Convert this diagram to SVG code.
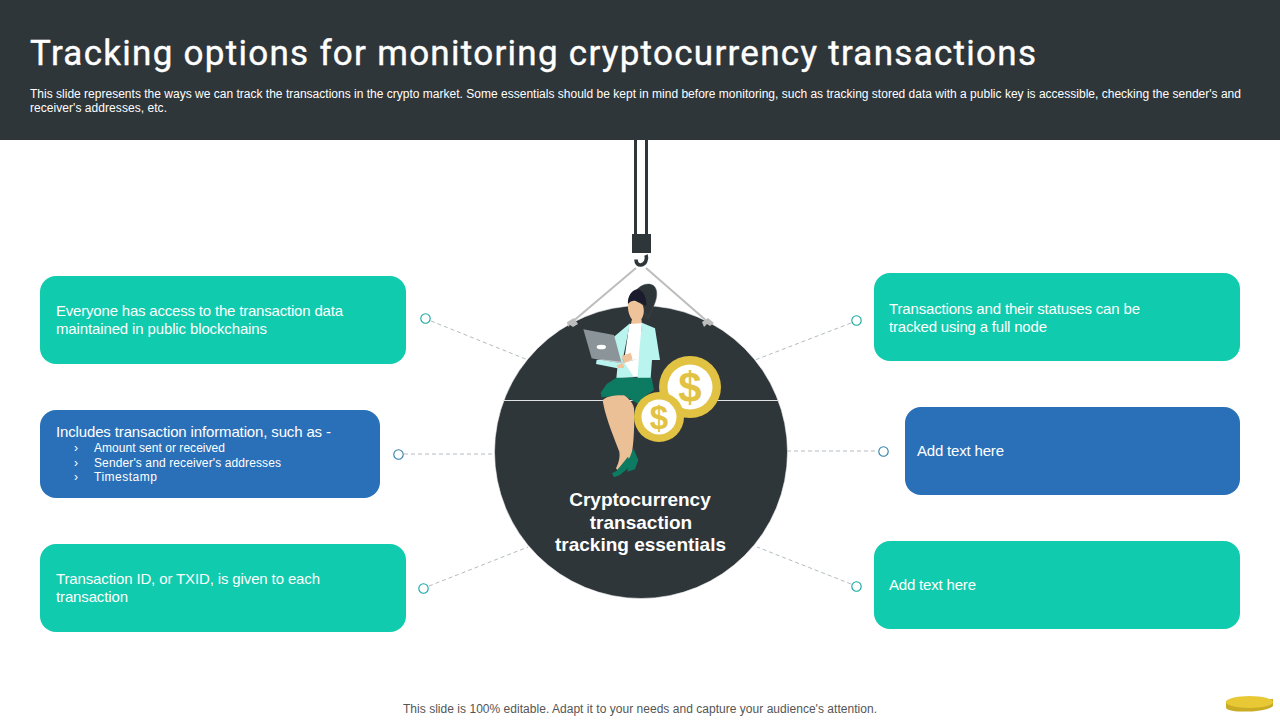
<svg xmlns="http://www.w3.org/2000/svg" width="1280" height="720" viewBox="0 0 1280 720">
<style>
text{font-family:"Liberation Sans",Arial,sans-serif}
.t{fill:#fff;font-size:15px}
.s{fill:#fff;font-size:12px}
.c{fill:#fff;font-size:19px;font-weight:700;text-anchor:middle}
.teal{fill:#10CBAD}
.blue{fill:#2A70B8}
.dash{stroke:#b4bcc0;stroke-width:1;stroke-dasharray:4 3;fill:none}
.dt{fill:#fff;stroke:#10A8A0;stroke-width:1.100}
.db{fill:#fff;stroke:#2F7FA8;stroke-width:1.100}
.rope{stroke:#bdbdbd;stroke-width:2;fill:none}
.gold{fill:#E2C243}
.dollar{fill:#E2C243;font-weight:700;text-anchor:middle}
</style>
<rect width="1280" height="720" fill="#fff"/>
<g id="header">
<rect width="1280" height="140" fill="#2F363A"/>
<text x="30" y="65" fill="#fff" stroke="#fff" stroke-width=".4" font-size="35" font-weight="400" style="font-family:Roboto,sans-serif" textLength="1006">Tracking options for monitoring cryptocurrency transactions</text>
<text x="30" y="98" class="s" textLength="1211">This slide represents the ways we can track the transactions in the crypto  market. Some essentials should be kept in mind before monitoring, such as tracking stored data with a public key is accessible, checking the sender's and</text>
<text x="30" y="112" class="s" textLength="137">receiver's addresses, etc.</text>
</g>
<g id="connectors">
<path class="dash" d="M431 321L528 360"/>
<path class="dash" d="M404 454H495"/>
<path class="dash" d="M429 586L528 547"/>
<path class="dash" d="M851 323L755 360"/>
<path class="dash" d="M787 451H878"/>
<path class="dash" d="M851 584L757 547"/>
<circle class="dt" cx="425.500" cy="318.500" r="4.700"/>
<circle class="db" cx="398.500" cy="454.500" r="4.700"/>
<circle class="dt" cx="423.500" cy="588.500" r="4.700"/>
<circle class="dt" cx="856.500" cy="320.500" r="4.700"/>
<circle class="db" cx="883.500" cy="451.500" r="4.700"/>
<circle class="dt" cx="856.500" cy="586.500" r="4.700"/>
</g>
<g id="node-top-left">
<rect class="teal" x="40" y="276" width="366" height="88" rx="16"/>
<text class="t" x="56" y="316" textLength="287">Everyone has access to the transaction data</text>
<text class="t" x="56" y="334" textLength="211">maintained in public blockchains</text>
</g>
<g id="node-mid-left">
<rect class="blue" x="40" y="410" width="340" height="88" rx="16"/>
<text class="t" x="56" y="437" textLength="275">Includes transaction information, such as -</text>
<text class="s" x="74" y="452">›</text><text class="s" x="94" y="452" textLength="131">Amount sent or received</text>
<text class="s" x="74" y="467">›</text><text class="s" x="94" y="467" textLength="187">Sender's and receiver's addresses</text>
<text class="s" x="74" y="481">›</text><text class="s" x="94" y="481" textLength="63">Timestamp</text>
</g>
<g id="node-bottom-left">
<rect class="teal" x="40" y="544" width="366" height="88" rx="16"/>
<text class="t" x="56" y="584" textLength="264">Transaction ID, or TXID,  is given to each</text>
<text class="t" x="56" y="602" textLength="72">transaction</text>
</g>
<g id="node-top-right">
<rect class="teal" x="874" y="273" width="366" height="88" rx="16"/>
<text class="t" x="889" y="314" textLength="251">Transactions and their statuses can be</text>
<text class="t" x="889" y="332" textLength="158">tracked using a full node</text>
</g>
<g id="node-mid-right">
<rect class="blue" x="905" y="407" width="335" height="88" rx="16"/>
<text class="t" x="917" y="456" textLength="87">Add text here</text>
</g>
<g id="node-bottom-right">
<rect class="teal" x="874" y="541" width="366" height="88" rx="16"/>
<text class="t" x="889" y="590" textLength="87">Add text here</text>
</g>
<g id="center">
<path class="rope" d="M636 268L571 323M646 268L709 323"/>
<circle cx="641" cy="452" r="146.500" fill="#2F363A" stroke="#f2f4f4" stroke-width=".6"/>
<path d="M567 322L574 318L578 324L573 327L570 325L568 327Z" fill="#bdbdbd"/>
<path d="M702 322L708 318L714 323L710 326L707 324L704 327Z" fill="#bdbdbd"/>
<path d="M503 400.500H779" stroke="#dfe3e3" stroke-width="1"/>
<rect x="634" y="140" width="3" height="95" fill="#2F363A"/>
<rect x="645" y="140" width="3" height="95" fill="#2F363A"/>
<rect x="632" y="234" width="19" height="19" fill="#2F363A"/>
<path d="M646 255C647.500 259 645.500 264.500 641 265C638 265.300 636 263 636 259.500" fill="none" stroke="#2F363A" stroke-width="3.600"/>
<text class="c" x="640" y="506">Cryptocurrency</text>
<text class="c" x="641" y="529">transaction</text>
<text class="c" x="640.500" y="551" textLength="171">tracking essentials</text>
</g>
<g id="figure" transform="translate(540 280) scale(.33333)">
<path d="M285 35C300 15 325 5 342 18C356 32 350 60 340 80L325 115L290 70Z" fill="#2F363A" stroke="#454d51" stroke-width="1.500"/>
<path d="M264 65C275 60 290 62 308 75C314 90 312 105 304 118L306 132L292 165L272 135L276 118C266 105 262 85 264 65Z" fill="#EFC39A"/>
<path d="M264 72C262 50 275 30 292 28C310 30 322 55 318 78C305 70 280 50 264 72Z" fill="#1A1C2E"/>
<path d="M268 132L306 130L302 210L298 290L245 292L255 225Z" fill="#fff"/>
<path d="M270 130L222 170L228 235L170 240L168 252L232 265L229 295L282 292L248 240Z" fill="#B9F4EE"/>
<path d="M306 128L345 145L360 240L336 240L332 295L292 302L298 210Z" fill="#B9F4EE"/>
<path d="M229 293L335 293L342 330L320 345L295 372L250 345L185 352L182 338L200 312Z" fill="#0C7B61"/>
<path d="M188 360C205 345 235 345 252 346C268 356 280 372 282 385C284 430 282 490 274 530L262 540L232 570L228 565C238 545 240 530 238 515C225 480 195 410 188 360Z" fill="#EBC096"/>
<path d="M280 505L295 540L285 568L262 575L268 535Z" fill="#0C7B61"/>
<path d="M216 580L230 572L264 530L272 550L262 566L240 585L222 592Z" fill="#0C7B61"/>
<path d="M130 148L222 165L245 250L155 235Z" fill="#8B9499"/>
<path d="M155 235L245 250L295 237L245 245Z" fill="#c7cccf"/>
<ellipse cx="184" cy="201" rx="14" ry="7" fill="#fff"/>
<path d="M245 228L272 218L278 238L252 250Z" fill="#EFC39A"/>
<path d="M230 256L250 250L252 264L234 264Z" fill="#EFC39A"/>
</g>
<g id="coins">
<circle class="gold" cx="690" cy="387" r="31"/>
<circle cx="690" cy="387" r="22.500" fill="#fff"/>
<text class="dollar" x="690" y="402" font-size="42">$</text>
<circle class="gold" cx="659" cy="417" r="25"/>
<circle cx="659" cy="417" r="17.500" fill="#fff"/>
<text class="dollar" x="659" y="429" font-size="33">$</text>
</g>
<g id="footer">
<text x="403" y="713" font-size="12" fill="#555" textLength="474">This slide is 100% editable. Adapt it to your needs and capture your audience's attention.</text>
<path d="M1226 701V708C1230 714 1268 712 1273 706V699Z" fill="#C9AC24"/>
<ellipse cx="1249.500" cy="702" rx="23.500" ry="6" fill="#E8C935"/>
</g>
</svg>
